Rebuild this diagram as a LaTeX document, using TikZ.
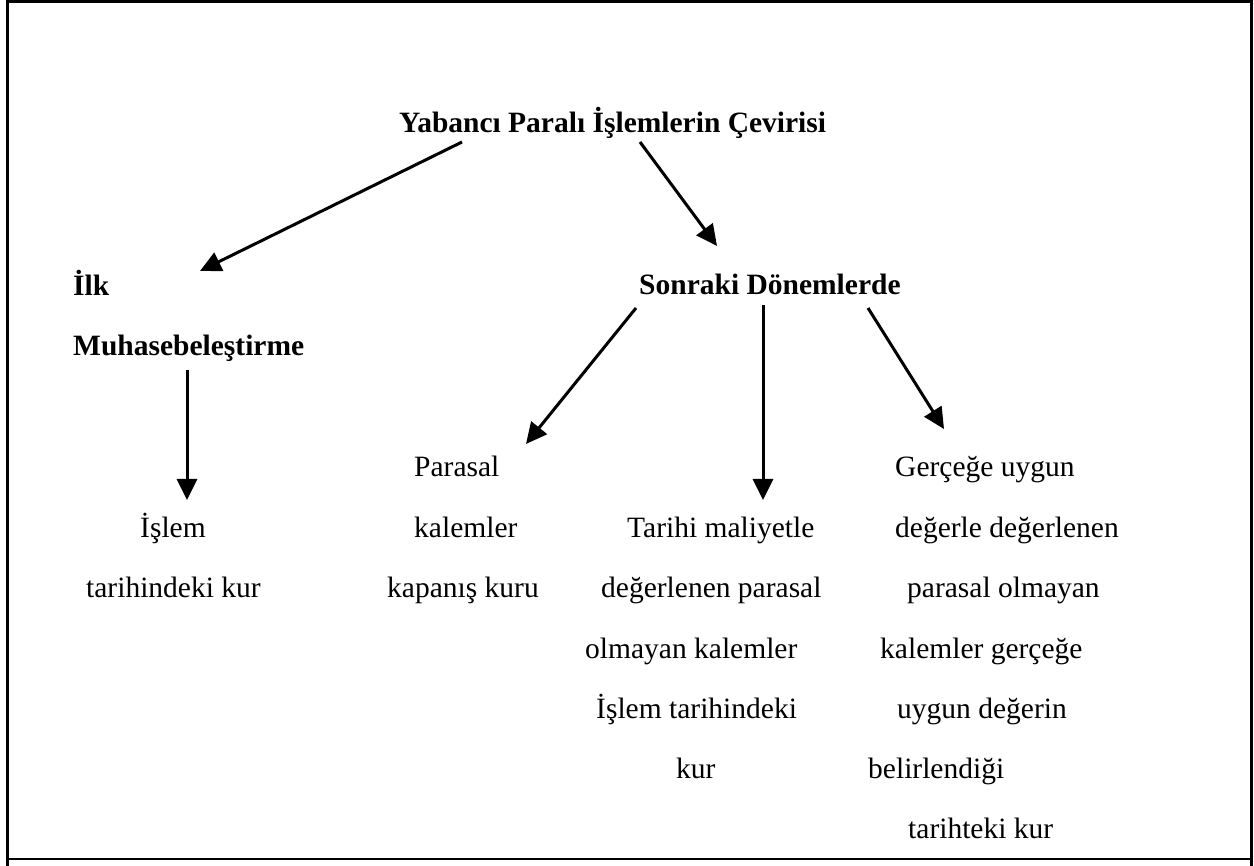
\documentclass[tikz,border=0pt]{standalone}
\usepackage{fontspec}
\setmainfont{Liberation Serif}
\usetikzlibrary{arrows.meta}
\begin{document}
\begin{tikzpicture}[x=1pt,y=-1pt,
  txt/.style={anchor=base west,inner sep=0pt,font=\fontsize{29.5}{35}\selectfont},
  btxt/.style={txt,font=\fontsize{29.5}{35}\selectfont\bfseries},
  arr/.style={line width=3pt,-{Triangle[length=21pt,width=20pt]}},
  frame/.style={line width=3pt}]
\useasboundingbox (0,0) rectangle (1254,866);
% frame
\draw[frame] (7,866) -- (7,2) -- (1251,2) -- (1251,866);
\draw[line width=2pt] (7,859) -- (1251,859);
% headings
\node[btxt] (title) at (399,133) {Yabancı Paralı İşlemlerin Çevirisi};
\node[btxt] (ilk) at (73,296) {İlk};
\node[btxt] (muh) at (73,356) {Muhasebeleştirme};
\node[btxt] (son) at (639,295) {Sonraki Dönemlerde};
% first column
\node[txt] (a1) at (140,537) {İşlem};
\node[txt] (a2) at (86,597) {tarihindeki kur};
% second column
\node[txt] (b1) at (414,477) {Parasal};
\node[txt] (b2) at (414,537) {kalemler};
\node[txt] (b3) at (387,597) {kapanış kuru};
% third column
\node[txt] (c1) at (627,537) {Tarihi maliyetle};
\node[txt] (c2) at (601,597) {değerlenen parasal};
\node[txt] (c3) at (585,658) {olmayan kalemler};
\node[txt] (c4) at (596,718) {İşlem tarihindeki};
\node[txt] (c5) at (676,778) {kur};
% fourth column
\node[txt] (d1) at (895,477) {Gerçeğe uygun};
\node[txt] (d2) at (895,537) {değerle değerlenen};
\node[txt] (d3) at (907,597) {parasal olmayan};
\node[txt] (d4) at (880,658) {kalemler gerçeğe};
\node[txt] (d5) at (897,718) {uygun değerin};
\node[txt] (d6) at (868,778) {belirlendiği};
\node[txt] (d7) at (908,838) {tarihteki kur};
% arrow end points
\coordinate (t1) at (462,142);
\coordinate (t2) at (640,142);
\coordinate (ilkE) at (200,271);
\coordinate (sonE) at (717,246);
\coordinate (m1) at (187,370);
\coordinate (m2) at (187,500);
\coordinate (s1) at (636,308);
\coordinate (s1e) at (526,444);
\coordinate (s2) at (763,305);
\coordinate (s2e) at (763,500);
\coordinate (s3) at (868,308);
\coordinate (s3e) at (944,429);
\draw[arr] (t1) -- (ilkE);
\draw[arr] (t2) -- (sonE);
\draw[arr] (m1) -- (m2);
\draw[arr] (s1) -- (s1e);
\draw[arr] (s2) -- (s2e);
\draw[arr] (s3) -- (s3e);
\end{tikzpicture}
\end{document}
